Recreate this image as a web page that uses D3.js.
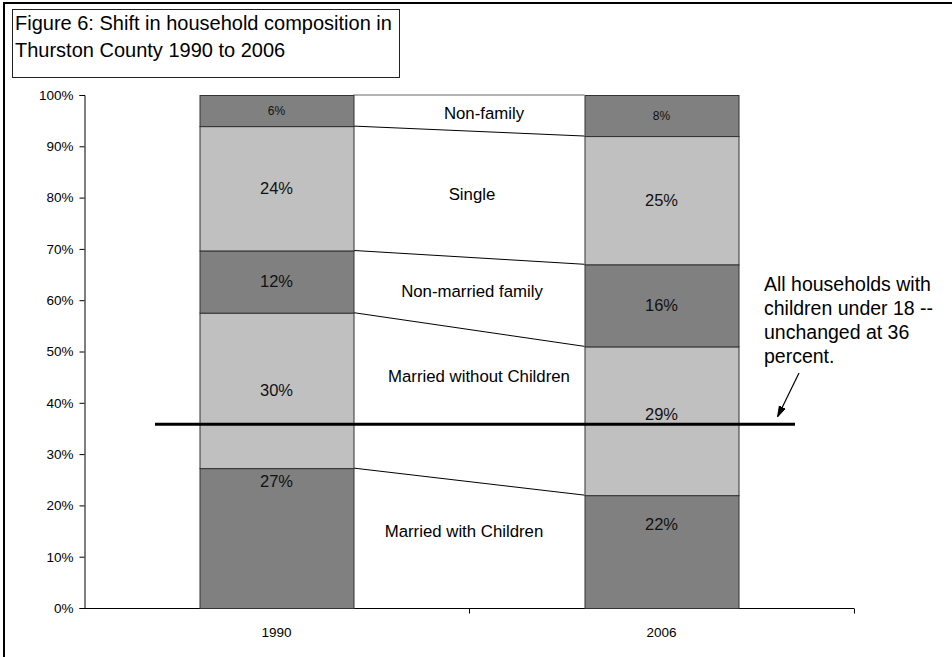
<!DOCTYPE html>
<html>
<head>
<meta charset="utf-8">
<script src="https://cdn.jsdelivr.net/npm/d3@7"></script>
<style>
  html, body { margin: 0; padding: 0; background: #fff; }
  svg { display: block; font-family: "Liberation Sans", Arial, sans-serif; }
</style>
</head>
<body>
<svg id="chart" width="952" height="657"></svg>
<script>
// Household composition shares (percent) by year, bottom to top of each stack
const years = ["1990", "2006"];
const series = ["Married with Children", "Married without Children", "Non-married family", "Single", "Non-family"];
const values1990 = [27, 30, 12, 24, 6];
const values2006 = [22, 29, 16, 25, 8];
const yTicks = [0, 0.1, 0.2, 0.3, 0.4, 0.5, 0.6, 0.7, 0.8, 0.9, 1.0];
const childrenShare = 36;
const titleLines = ["Figure 6: Shift in household composition in", "Thurston County 1990 to 2006"];
const noteLines = ["All households with", "children under 18 --", "unchanged at 36", "percent."];

const rows = years.map((yr, i) => {
  const vals = i === 0 ? values1990 : values2006;
  const r = { year: yr };
  series.forEach((s, j) => { r[s] = vals[j]; });
  return r;
});

const stack = d3.stack().keys(series).offset(d3.stackOffsetExpand);
const layers = stack(rows);

const svg = d3.select("#chart");

const x = d3.scaleBand().domain(years).range([84, 854]).paddingInner(0.6).paddingOuter(0.3);
const y = d3.scaleLinear().domain([0, 1]).range([608, 95]);

const dark = "#808080", light = "#c0c0c0";
const fills = [dark, light, dark, light, dark];

// outer frame (left and top edges visible)
svg.append("rect").attr("x", 4).attr("y", 3).attr("width", 1000).attr("height", 700)
  .attr("fill", "none").attr("stroke", "#000").attr("stroke-width", 2);

// title box
svg.append("rect").attr("x", 12.5).attr("y", 9.5).attr("width", 387).attr("height", 68)
  .attr("fill", "#fff").attr("stroke", "#222").attr("stroke-width", 1);
svg.append("g").selectAll("text").data(titleLines).join("text")
  .attr("x", 15).attr("y", (d, i) => 30 + i * 27)
  .attr("font-size", 20).attr("fill", "#000").text(d => d);

// y axis
const yAxis = d3.axisLeft(y).tickValues(yTicks).tickFormat(d3.format(".0%")).tickSize(5).tickPadding(6);
const gy = svg.append("g").attr("transform", "translate(84.5,0)").call(yAxis);
gy.select(".domain").attr("stroke", "#000");
gy.selectAll(".tick line").attr("stroke", "#000");
gy.selectAll(".tick text").attr("font-size", 13.5).attr("font-family", "Liberation Sans, Arial, sans-serif").attr("fill", "#000");

// x axis with ticks at category boundaries
const step = x.step();
const gx = svg.append("g").attr("transform", "translate(0,608.5)");
gx.append("line").attr("x1", 84).attr("x2", x.range()[1]).attr("stroke", "#000");
gx.selectAll("line.tk").data([x("1990") + x.bandwidth() / 2 + step / 2, x.range()[1]]).join("line")
  .attr("class", "tk").attr("x1", d => d + 0.5).attr("x2", d => d + 0.5).attr("y1", 0).attr("y2", 5).attr("stroke", "#000");
gx.selectAll("text").data(years).join("text")
  .attr("x", d => x(d) + x.bandwidth() / 2).attr("y", 28)
  .attr("text-anchor", "middle").attr("font-size", 13.5).attr("fill", "#000").text(d => d);

// series lines joining segment boundaries between the two bars
const b1 = layers.map(l => l[0][1]);
const b2 = layers.map(l => l[1][1]);
svg.append("g").selectAll("line").data(series.map((s, i) => i)).join("line")
  .attr("x1", x("1990") + x.bandwidth()).attr("x2", x("2006"))
  .attr("y1", i => y(b1[i])).attr("y2", i => y(b2[i]))
  .attr("stroke", i => i === series.length - 1 ? "#666" : "#000").attr("stroke-width", 1);

// stacked bars
const gBars = svg.append("g");
layers.forEach((layer, i) => {
  gBars.selectAll(null).data(layer).join("rect")
    .attr("x", d => x(d.data.year) + 0.5)
    .attr("y", d => y(d[1]) + 0.5)
    .attr("width", x.bandwidth())
    .attr("height", d => y(d[0]) - y(d[1]))
    .attr("fill", fills[i]).attr("stroke", "#333").attr("stroke-width", 1);
});

// value labels inside the segments
const labelNudge = { "1990|Married with Children": -57, "2006|Married with Children": -27, "2006|Married without Children": -7 };
const gLab = svg.append("g");
layers.forEach((layer) => {
  const key = layer.key;
  layer.forEach(d => {
    const yr = d.data.year;
    const small = key === "Non-family";
    gLab.append("text")
      .attr("x", x(yr) + x.bandwidth() / 2)
      .attr("y", (y(d[0]) + y(d[1])) / 2 + (labelNudge[yr + "|" + key] || 0))
      .attr("dy", "0.35em").attr("text-anchor", "middle")
      .attr("font-size", small ? 12 : 16.5).attr("fill", "#111")
      .text(d.data[key] + "%");
  });
});

// series names in the gap between the bars
const nameNudge = { "Married without Children": [10, -29], "Married with Children": [-5, -14], "Non-family": [15, 0], "Single": [3, 0], "Non-married family": [3, -2] };
const gapX = (x("1990") + x.bandwidth() + x("2006")) / 2;
svg.append("g").selectAll("text").data(layers).join("text")
  .attr("x", l => gapX + (nameNudge[l.key] ? nameNudge[l.key][0] : 0))
  .attr("y", l => {
    const top = (y(l[0][1]) + y(l[1][1])) / 2;
    const bot = (y(l[0][0]) + y(l[1][0])) / 2;
    return (top + bot) / 2 + (nameNudge[l.key] ? nameNudge[l.key][1] : 0);
  })
  .attr("dy", "0.35em").attr("text-anchor", "middle").attr("font-size", 16.8).attr("fill", "#000")
  .text(l => l.key);

// households with children reference line
svg.append("line").attr("x1", 155).attr("x2", 795)
  .attr("y1", y(childrenShare / 100) + 1).attr("y2", y(childrenShare / 100) + 1)
  .attr("stroke", "#000").attr("stroke-width", 3);

// annotation and arrow
svg.append("defs").append("marker").attr("id", "arrowhead")
  .attr("viewBox", "0 0 10 10").attr("refX", 9).attr("refY", 5)
  .attr("markerWidth", 9).attr("markerHeight", 9).attr("orient", "auto")
  .append("path").attr("d", "M0,2 L10,5 L0,8 Z").attr("fill", "#000").attr("stroke", "#000").attr("stroke-width", 0.8);
svg.append("line").attr("x1", 799).attr("y1", 373).attr("x2", 778).attr("y2", 416)
  .attr("stroke", "#000").attr("stroke-width", 1.2).attr("marker-end", "url(#arrowhead)");
svg.append("g").selectAll("text").data(noteLines).join("text")
  .attr("x", 764).attr("y", (d, i) => 291 + i * 24)
  .attr("font-size", 19.5).attr("fill", "#000").text(d => d);
</script>
</body>
</html>
